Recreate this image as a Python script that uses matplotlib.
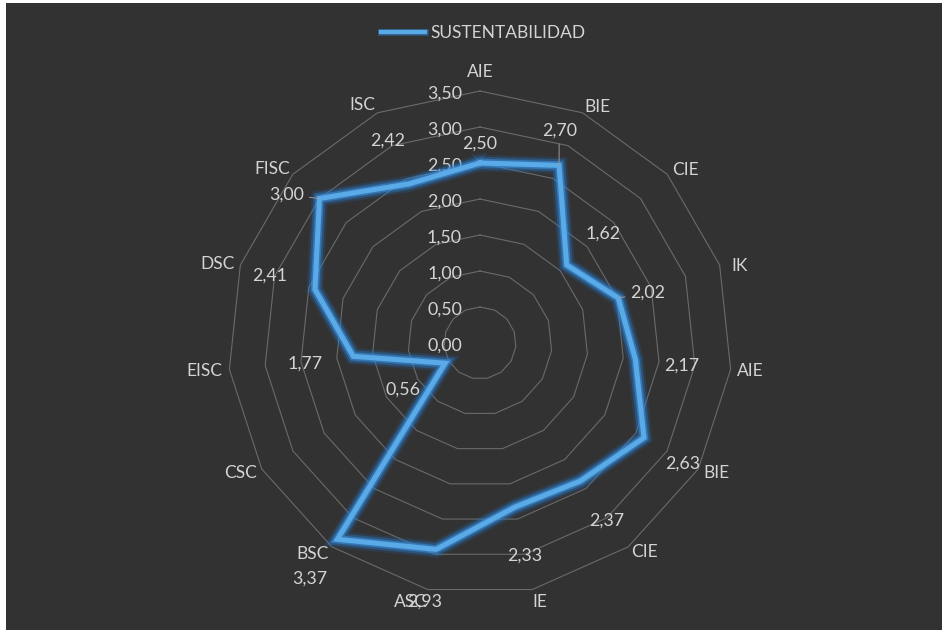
import numpy as np
import matplotlib
matplotlib.use("Agg")
import matplotlib.pyplot as plt
import matplotlib.patheffects as pe
from matplotlib.patches import Rectangle

plt.rcParams['font.family'] = ['Lato', 'DejaVu Sans']

# data
categories = ['AIE', 'BIE', 'CIE', 'IK', 'AIE', 'BIE', 'CIE', 'IE',
              'ASC', 'BSC', 'CSC', 'EISC', 'DSC', 'FISC', 'ISC']
values = [2.50, 2.70, 1.62, 2.02, 2.17, 2.63, 2.37, 2.33,
          2.93, 3.37, 0.56, 1.77, 2.41, 3.00, 2.42]
series_name = 'SUSTENTABILIDAD'
levels = [0.0, 0.5, 1.0, 1.5, 2.0, 2.5, 3.0, 3.5]

# where the data labels sit (angle in degrees clockwise from top, radius in data units)
label_theta = [0.0, 20.3, 48.0, 72.8, 95.9, 120.4, 144.2, 168.0,
               192.1, 216.0, 239.7, 263.8, 288.1, 307.7, 335.7]
label_r = [2.79, 3.17, 2.30, 2.44, 2.82, 3.27, 3.01, 3.00,
           3.65, 4.02, 1.24, 2.44, 3.08, 3.40, 3.11]
leader = [False, True, False, True, False, False, False, False,
          False, False, False, False, False, True, False]
# category label placement, as Excel put them
cat_theta = [0.0, 26.2, 49.6, 73.3, 95.5, 118.4, 141.7, 166.9,
             195.2, 218.6, 241.8, 264.6, 287.0, 310.1, 333.9]
cat_r = [3.79, 3.68, 3.75, 3.77, 3.77, 3.74, 3.68, 3.67,
         3.70, 3.72, 3.77, 3.84, 3.81, 3.78, 3.70]

BG = '#323232'
TXT = '#d4d4d4'
GRID = '#6a6a6a'
LINE = '#5aaae8'


def fmt(v):
    return f'{v:.2f}'.replace('.', ',')


fig = plt.figure(figsize=(9.42, 6.30), dpi=100, facecolor='white')
fig.patches.append(Rectangle((6 / 942, 0), 1, 1 - 3 / 630, transform=fig.transFigure,
                             facecolor=BG, edgecolor='none', zorder=-10))

ax = fig.add_axes([228 / 942, 35 / 630, 504 / 942, 504 / 630], projection='polar')
ax.set_facecolor('none')
ax.set_theta_zero_location('N')
ax.set_theta_direction(-1)
ax.set_ylim(0, 3.5)
ax.spines['polar'].set_visible(False)
ax.grid(False)
ax.set_yticks([])
ax.set_xticks([])

n = len(categories)
angles = np.linspace(0, 2 * np.pi, n, endpoint=False)
closed = np.concatenate([angles, angles[:1]])

# polygon gridlines
for lv in levels[1:]:
    ax.plot(closed, [lv] * (n + 1), color=GRID, lw=0.8, zorder=1, clip_on=False)

# radial value labels on the top axis
for lv in levels:
    ax.annotate(fmt(lv), xy=(0, lv), xytext=(-18, -1), textcoords='offset pixels',
                ha='right', va='center_baseline', color=TXT, fontsize=12.8,
                annotation_clip=False)

# category labels
for th, name, r in zip(cat_theta, categories, cat_r):
    ax.text(np.deg2rad(th), r, name, ha='center', va='center_baseline', color=TXT,
            fontsize=12.5, clip_on=False)

# series with glow
vals = values + values[:1]
ax.plot(closed, vals, color=LINE, lw=3.6, zorder=5, solid_joinstyle='miter', clip_on=False,
        label=series_name,
        path_effects=[pe.Stroke(linewidth=12, foreground='#1f6fc0', alpha=0.18),
                      pe.Stroke(linewidth=9, foreground='#2a7fd0', alpha=0.35),
                      pe.Stroke(linewidth=6, foreground='#3a8fdc', alpha=0.6),
                      pe.Normal()])

# data labels
for i, v in enumerate(values):
    th = np.deg2rad(label_theta[i])
    if leader[i]:
        ax.annotate(fmt(v), xy=(angles[i], v), xytext=(th, label_r[i]),
                    ha='center', va='center_baseline', color=TXT, fontsize=12.8, zorder=6,
                    annotation_clip=False,
                    arrowprops=dict(arrowstyle='-', color='#9a9a9a', lw=0.7,
                                    shrinkA=2, shrinkB=0))
    else:
        ax.text(th, label_r[i], fmt(v), ha='center', va='center_baseline', color=TXT,
                fontsize=12.8, zorder=6, clip_on=False)

leg = fig.legend(loc='upper center', bbox_to_anchor=(0.513, 0.985), frameon=False,
                 fontsize=12.5, labelcolor=TXT, handlelength=2.5, handletextpad=0.3)
for h in leg.legend_handles:
    h.set_path_effects([pe.Stroke(linewidth=5, foreground='#2a7fd0', alpha=0.4), pe.Normal()])
    h.set_linewidth(3.2)

fig.savefig('out.png', dpi=100, facecolor=fig.get_facecolor())
